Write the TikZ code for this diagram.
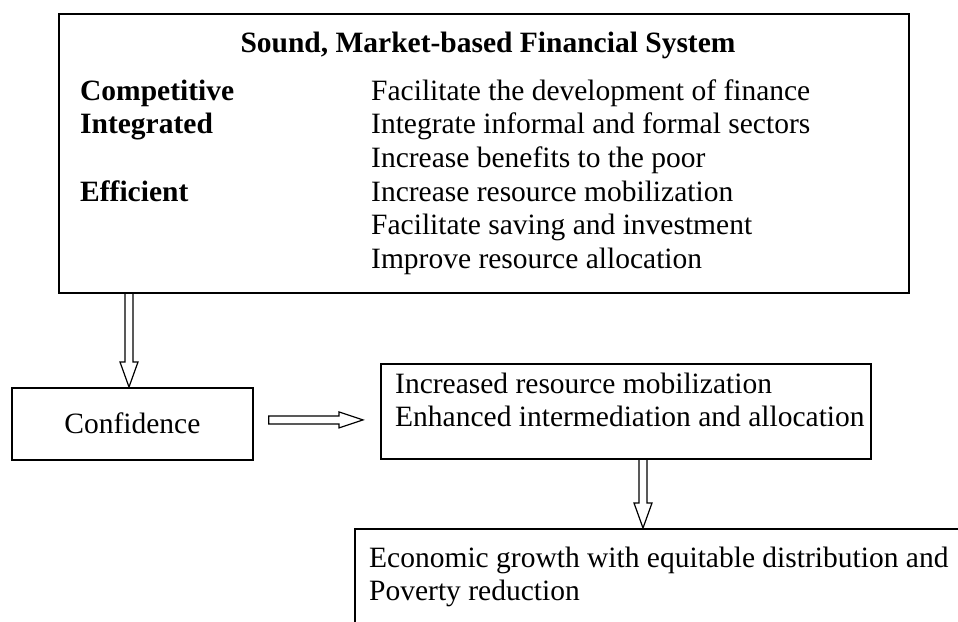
\documentclass[tikz,border=0pt]{standalone}
\usepackage{fontspec}
\setmainfont{Liberation Serif}
\usetikzlibrary{calc}

\tikzset{
  box/.style={draw=black, line width=1.8pt, inner sep=0pt},
  txt/.style={inner sep=0pt, anchor=base west,
    font=\fontsize{29.5}{33.6}\selectfont},
  bold/.style={txt, font=\fontsize{29.5}{33.6}\selectfont\bfseries},
  % hollow block arrow pointing down: start on the upper box, end at the tip
  vblock/.style={draw=black, line width=1.2pt, to path={
    let \p1=(\tikztostart), \p2=(\tikztotarget) in
    (\x1-4pt,\y1) -- (\x1-4pt,\y2+25pt) -- (\x1-9pt,\y2+25pt) -- (\x1,\y2)
    -- (\x1+9pt,\y2+25pt) -- (\x1+4pt,\y2+25pt) -- (\x1+4pt,\y1)}},
  % hollow block arrow pointing right
  hblock/.style={draw=black, line width=1.2pt, to path={
    let \p1=(\tikztostart), \p2=(\tikztotarget) in
    (\x1,\y1+4pt) -- (\x2-24pt,\y1+4pt) -- (\x2-24pt,\y1+8pt) -- (\x2,\y1)
    -- (\x2-24pt,\y1-8pt) -- (\x2-24pt,\y1-4pt) -- (\x1,\y1-4pt) -- cycle}}
}

\begin{document}
\begin{tikzpicture}[x=1pt, y=-1pt]
\useasboundingbox (0,0) rectangle (958,621);
\fill[white] (0,0) rectangle (958,621);

% outer box of the financial system
\node[box, minimum width=850pt, minimum height=279pt, anchor=north west]
  (sys) at (58,13) {};
\node[bold, anchor=base] (title) at (488,52) {Sound, Market-based Financial System};

\node[bold] (q1) at (80,100.0) {Competitive};
\node[bold] (q2) at (80,133.6) {Integrated};
\node[bold] (q3) at (80,201.0) {Efficient};

\node[txt] (r1) at (371,100.0) {Facilitate the development of finance};
\node[txt] (r2) at (371,133.6) {Integrate informal and formal sectors};
\node[txt] (r3) at (371,167.3) {Increase benefits to the poor};
\node[txt] (r4) at (371,201.0) {Increase resource mobilization};
\node[txt] (r5) at (371,234.6) {Facilitate saving and investment};
\node[txt] (r6) at (371,268.2) {Improve resource allocation};

% confidence
\node[box, minimum width=241pt, minimum height=72pt, anchor=north west]
  (conf) at (11,387) {};
\node[txt, anchor=base] (conft) at ($(conf.center)+(0,10)$) {Confidence};

% resource mobilization
\node[box, minimum width=490pt, minimum height=95pt, anchor=north west]
  (mob) at (380,363) {};
\node[txt] (m1) at (395,393) {Increased resource mobilization};
\node[txt] (m2) at (395,426.6) {Enhanced intermediation and allocation};

% growth and poverty reduction (runs off the page)
\begin{scope}
  \clip (0,0) rectangle (958,621);
  \node[box, minimum width=700pt, minimum height=150pt, anchor=north west]
    (grow) at (354,528) {};
\end{scope}
\node[txt] (g1) at (369,567) {Economic growth with equitable distribution and};
\node[txt] (g2) at (369,600.6) {Poverty reduction};

% block arrows
\coordinate (a1s) at (sys.south -| 129,0);
\coordinate (a1e) at (conf.north -| 129,0);
\draw[vblock] (a1s) to (a1e);

\coordinate (a2s) at ($(conf.east)+(15,-4)$);
\coordinate (a2e) at ($(mob.west)+(-17,8.5)$);
\draw[hblock] (a2s) to (a2e);

\coordinate (a3s) at (mob.south -| 643,0);
\coordinate (a3e) at (grow.north -| 643,0);
\draw[vblock] (a3s) to (a3e);
\end{tikzpicture}
\end{document}
